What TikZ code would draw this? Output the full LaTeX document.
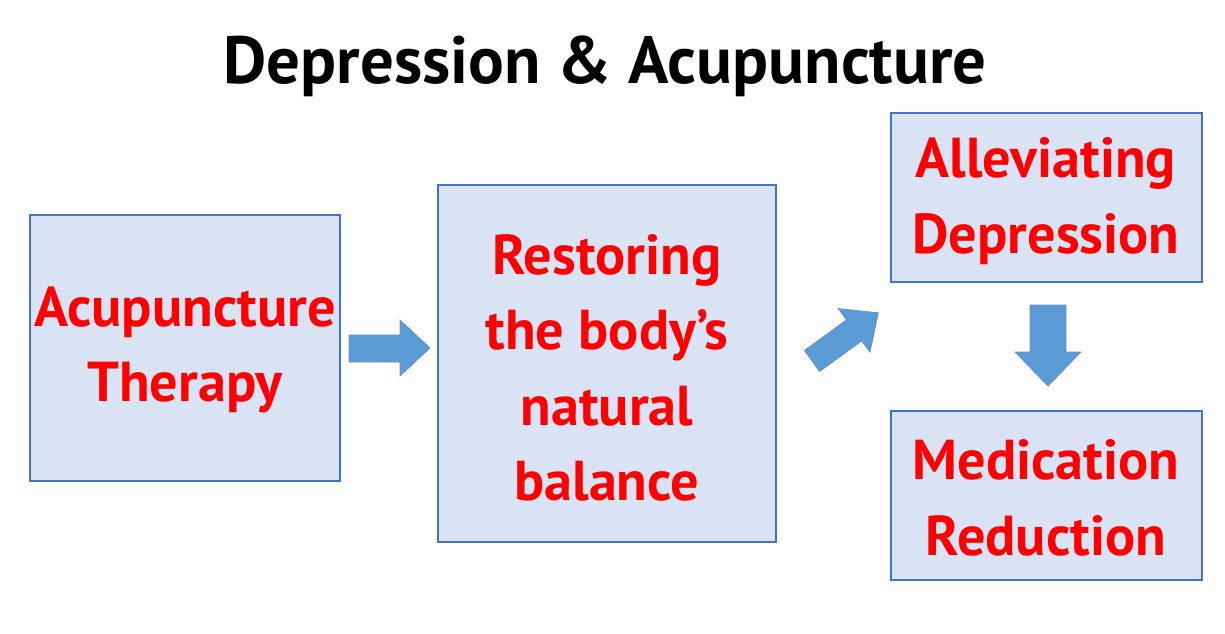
\documentclass[tikz,border=0pt]{standalone}
\usepackage{fontspec}
\setmainfont{PT Sans}
\definecolor{boxfill}{HTML}{DAE3F3}
\definecolor{boxline}{HTML}{4472C4}
\definecolor{arr}{HTML}{5B9BD5}
\definecolor{txt}{HTML}{FF0000}
\begin{document}
\begin{tikzpicture}[x=0.02cm,y=-0.02cm,
  box/.style={draw=boxline,fill=boxfill,line width=0.6pt},
  lab/.style={text=txt,font=\fontsize{32}{43}\selectfont\bfseries,align=center},
  blk/.style={fill=arr,draw=boxline!80,line width=0.4pt}]
\useasboundingbox (0,0) rectangle (1225,633);
\node[font=\fontsize{38}{44}\selectfont\bfseries] (title) at (605,66) {Depression \& Acupuncture};
\draw[box] (30,215) rectangle (340,481);
\node[lab] (a) at (185,350) {Acupuncture\\Therapy};
\draw[box] (438,185) rectangle (776,542);
\node[lab] (b) at (607,368) {Restoring\\the body’s\\natural\\balance};
\draw[box] (891,113) rectangle (1202,282);
\node[lab] (c) at (1046,201) {Alleviating\\Depression};
\draw[box] (891,411) rectangle (1202,580);
\node[lab] (d) at (1046,498) {Medication\\Reduction};
\draw[blk] (349,335) -- (400,335) -- (400,320) -- (430,348) -- (400,376) -- (400,362) -- (349,362) -- cycle;
\draw[blk] (819.6,371.5) -- (861.7,340.9) -- (870,352.2) -- (878.3,312.8) -- (838.2,308.6) -- (846.5,319.9) -- (804.4,350.5) -- cycle;
\draw[blk] (1030,305) -- (1066,305) -- (1066,352) -- (1081,352) -- (1048,386) -- (1015,352) -- (1030,352) -- cycle;
\end{tikzpicture}
\end{document}
